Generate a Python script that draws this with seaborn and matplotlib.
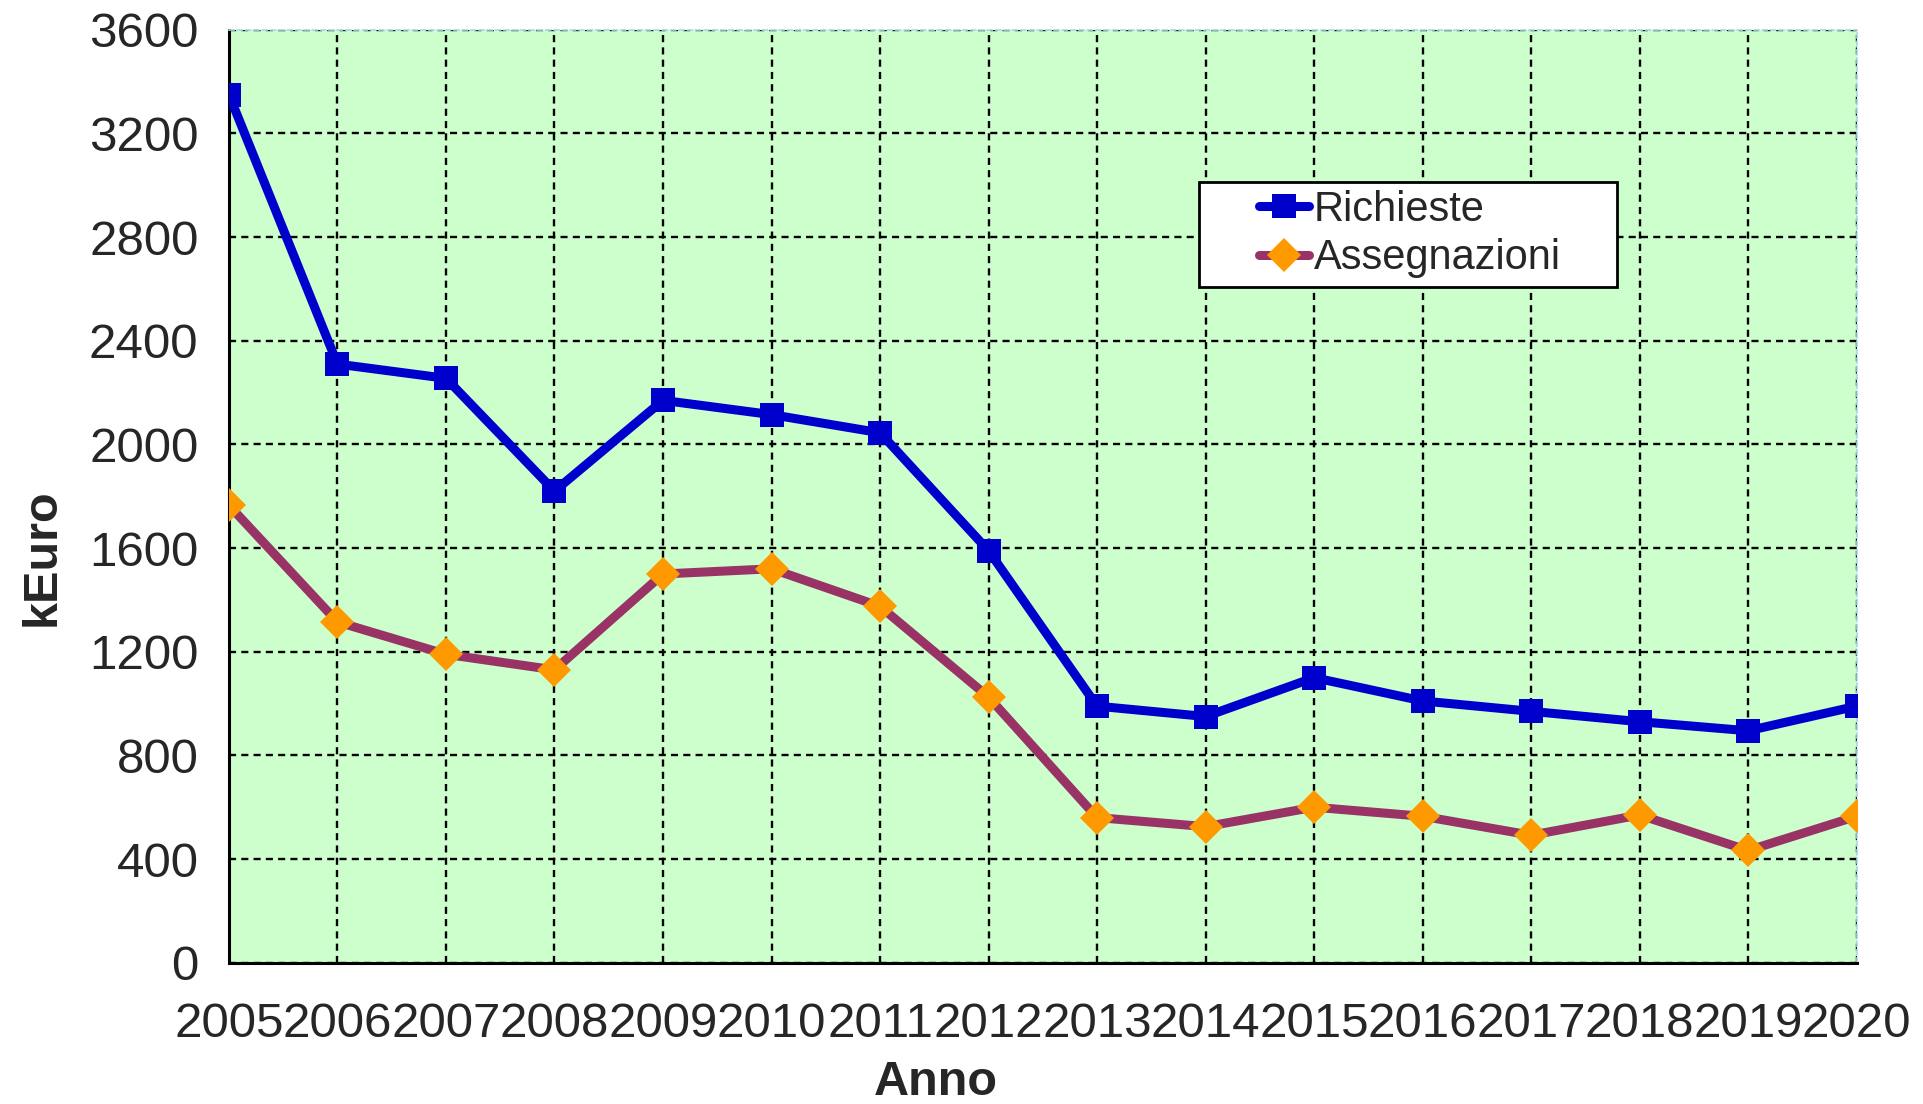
import matplotlib
matplotlib.use("Agg")
import matplotlib.pyplot as plt
import matplotlib.patches as mpatches
import seaborn as sns
import pandas as pd

# data
anni = [2005, 2006, 2007, 2008, 2009, 2010, 2011, 2012,
        2013, 2014, 2015, 2016, 2017, 2018, 2019, 2020]
richieste = [3350, 2310, 2255, 1820, 2170, 2115, 2045, 1590,
             990, 950, 1100, 1010, 970, 930, 895, 990]
assegnazioni = [1765, 1315, 1190, 1130, 1500, 1520, 1375, 1025,
                560, 525, 600, 565, 492, 570, 433, 565]
y_ticks = [0, 400, 800, 1200, 1600, 2000, 2400, 2800, 3200, 3600]

df = pd.DataFrame({"Anno": anni, "Richieste": richieste, "Assegnazioni": assegnazioni})

sns.set_style("white")
plt.rcParams["font.family"] = ["Liberation Sans", "DejaVu Sans"]

fig = plt.figure(figsize=(19.24, 11.04), dpi=100)
ax = fig.add_axes([0.119, 0.128, 0.846, 0.845])
ax.set_facecolor("#CCFFCC")

sns.lineplot(data=df, x="Anno", y="Richieste", ax=ax, color="#0000CC",
             linewidth=6.5, marker="s", markersize=17, markeredgewidth=0,
             markerfacecolor="#0000CC", label="Richieste", zorder=4)
sns.lineplot(data=df, x="Anno", y="Assegnazioni", ax=ax, color="#993366",
             linewidth=6.5, marker="D", markersize=17, markeredgewidth=0,
             markerfacecolor="#FF9900", label="Assegnazioni", zorder=4)

ax.set_xlim(2005, 2020)
ax.set_ylim(0, 3600)
ax.set_xticks(anni)
ax.set_yticks(y_ticks)
ax.tick_params(axis="both", labelsize=35.5, length=14, width=2, color="black",
               direction="out", pad=8)
ax.tick_params(axis="x", pad=14)

ax.grid(True, color="black", linestyle=(0, (3, 2.2)), linewidth=1.7, zorder=1)
ax.set_axisbelow(True)

for s in ["left", "bottom"]:
    ax.spines[s].set_color("black")
    ax.spines[s].set_linewidth(2.2)
for s in ["top", "right"]:
    ax.spines[s].set_color("#A8D8E8")
    ax.spines[s].set_linestyle((0, (3, 2)))
    ax.spines[s].set_linewidth(1.2)

ax.set_xlabel("Anno", fontsize=35, fontweight="bold")
ax.xaxis.set_label_coords(0.434, -0.104)
ax.set_ylabel("kEuro", fontsize=35, fontweight="bold", va="center")
ax.yaxis.set_label_coords(-0.115, 0.435)

# legend box (Excel style: wide white frame, tight vertical padding)
box = mpatches.Rectangle((0.596, 0.724), 0.257, 0.113, transform=ax.transAxes,
                         facecolor="white", edgecolor="black", linewidth=2,
                         zorder=5)
ax.add_patch(box)
leg = ax.legend(loc="center left", bbox_to_anchor=(0.633, 0.781), fontsize=30,
                frameon=False, handlelength=1.2, handletextpad=0.1,
                borderpad=0, labelspacing=0.2, borderaxespad=0)
leg.set_zorder(6)

fig.savefig("out.png", dpi=100)
